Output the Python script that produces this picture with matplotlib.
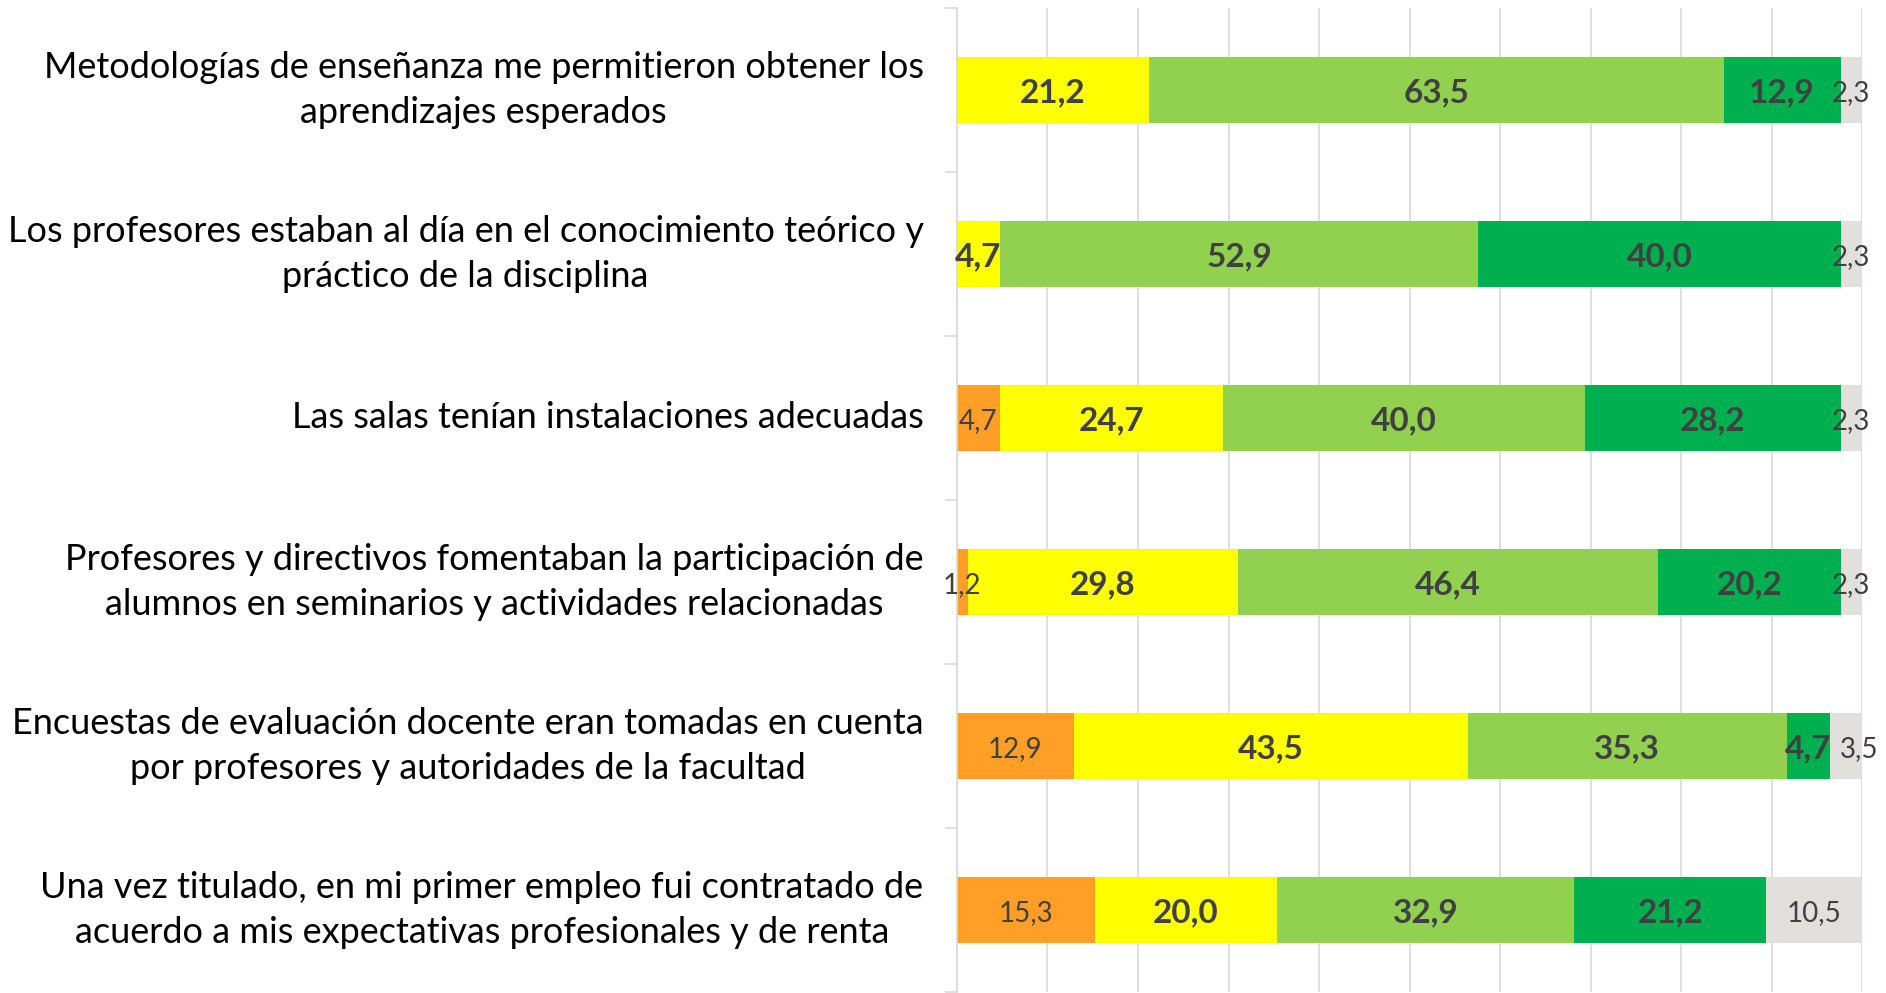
import numpy as np
import matplotlib
matplotlib.use("Agg")
import matplotlib.pyplot as plt

# categories, top to bottom
categories = [
    "Metodologías de enseñanza me permitieron obtener los\naprendizajes esperados",
    "Los profesores estaban al día en el conocimiento teórico y\npráctico de la disciplina",
    "Las salas tenían instalaciones adecuadas",
    "Profesores y directivos fomentaban la participación de\nalumnos en seminarios y actividades relacionadas",
    "Encuestas de evaluación docente eran tomadas en cuenta\npor profesores y autoridades de la facultad",
    "Una vez titulado, en mi primer empleo fui contratado de\nacuerdo a mis expectativas profesionales y de renta",
]

# percentages per response level (left to right in each bar)
orange = [0.0, 0.0, 4.7, 1.2, 12.9, 15.3]
yellow = [21.2, 4.7, 24.7, 29.8, 43.5, 20.0]
light_green = [63.5, 52.9, 40.0, 46.4, 35.3, 32.9]
dark_green = [12.9, 40.0, 28.2, 20.2, 4.7, 21.2]
gray = [2.3, 2.3, 2.3, 2.3, 3.5, 10.5]

series = [orange, yellow, light_green, dark_green, gray]
colors = ["#FF9F27", "#FFFF00", "#92D050", "#00B050", "#E2E0DD"]
label_weight = ["normal", "bold", "bold", "bold", "normal"]
label_size = [20, 24, 24, 24, 20]

plt.rcParams["font.family"] = ["Lato", "DejaVu Sans"]

fig = plt.figure(figsize=(18.86, 9.93), dpi=100)
ax = fig.add_axes([0.5074, 0.001, 0.48, 0.991])

y = np.arange(len(categories))
left = np.zeros(len(categories))
for k, (vals, col, w, fs) in enumerate(zip(series, colors, label_weight, label_size)):
    vals = np.array(vals)
    ax.barh(y, vals, left=left, height=0.4, color=col, zorder=2)
    for yi, (l, v) in enumerate(zip(left, vals)):
        if v <= 0:
            continue
        # small gray label crowded by its neighbour gets nudged right, like Excel did
        dx = 10 if (k == 4 and v < 5 and dark_green[yi] < 5) else 0
        ax.annotate(f"{v:.1f}".replace(".", ","), (l + v / 2, yi + 0.02),
                    xytext=(dx, 0), textcoords="offset points", ha="center",
                    va="center", fontsize=fs, fontweight=w, color="#404040",
                    zorder=3, annotation_clip=False)
    left += vals

ax.set_xlim(0, 100)
ax.set_ylim(len(categories) - 0.5, -0.5)
ax.set_xticks(np.arange(0, 101, 10))
ax.xaxis.grid(True, color="#D9D9D9", linewidth=1.2, zorder=0)
ax.tick_params(axis="x", length=0, labelbottom=False)

ax.set_yticks(y)
ax.set_yticklabels(categories, fontsize=26, ha="right", va="center",
                   multialignment="center", linespacing=1.45, color="black")
ax.tick_params(axis="y", which="major", length=0, pad=24)
ax.set_yticks(np.arange(-0.5, len(categories), 1.0), minor=True)
ax.tick_params(axis="y", which="minor", length=9, color="#D9D9D9", width=1.2)

for s in ["top", "right", "bottom"]:
    ax.spines[s].set_visible(False)
ax.spines["left"].set_color("#D9D9D9")
ax.spines["left"].set_linewidth(1.2)

fig.savefig("out.png", dpi=100, facecolor="white")
